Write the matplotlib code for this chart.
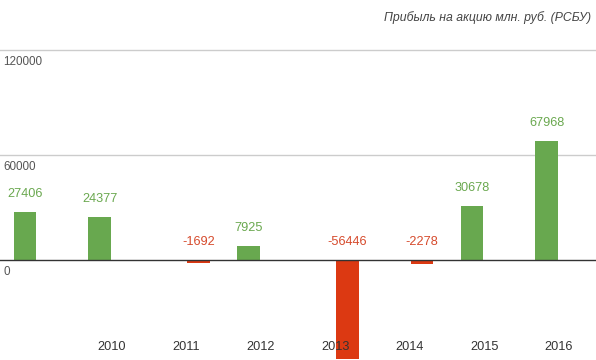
import numpy as np
import matplotlib
matplotlib.use("Agg")
from matplotlib import pyplot as plt
from matplotlib import transforms

years = ["2009", "2010", "2011", "2012", "2013", "2014", "2015", "2016"]
year_labels = ["", "2010", "2011", "2012", "2013", "2014", "2015", "2016"]
profit = [27406, 24377, -1692, 7925, -56446, -2278, 30678, 67968]
y_ticks = [0, 60000, 120000]
title = "Прибыль на акцию млн. руб. (РСБУ)"

green = "#68a84f"
red = "#dc3912"
green_txt = "#6aa84f"
red_txt = "#d64a2c"

plt.rcParams["font.family"] = ["Liberation Sans", "DejaVu Sans"]

fig = plt.figure(figsize=(5.96, 3.6), dpi=100)
ax = fig.add_axes([0, 0, 1, 1])

x = np.arange(len(years))
vals = np.array(profit, dtype=float)
pos = vals >= 0
off = 0.163
w = 0.30

# positive series left of the slot, negative series right of it
ax.bar(x[pos] - off, vals[pos], width=w, color=green, zorder=2)
ax.bar(x[~pos] + off, vals[~pos], width=w, color=red, zorder=2)

for xi, v in zip(x, vals):
    if v >= 0:
        ax.annotate(str(int(v)), (xi - off, v), xytext=(0, 13),
                    textcoords="offset points", ha="center", va="center",
                    fontsize=9.2, color=green_txt, zorder=4)
    else:
        ax.annotate(str(int(v)), (xi + off, 0), xytext=(0, 12.8),
                    textcoords="offset points", ha="center", va="center",
                    fontsize=9.2, color=red_txt, zorder=4)

ax.set_xlim(-0.5, len(years) - 0.5)
ax.set_ylim(-56900, 148300)

# grid lines + tick labels inside the plot
for t in y_ticks:
    if t == 0:
        ax.axhline(0, color="#333333", lw=1.0, zorder=3)
    else:
        ax.axhline(t, color="#cccccc", lw=1.0, zorder=1)
    ax.annotate(str(t), (0, t), xycoords=("axes fraction", "data"),
                xytext=(2.5, -4.5), textcoords="offset points",
                ha="left", va="top", fontsize=8.4, color="#555555")

trans = transforms.blended_transform_factory(ax.transData, ax.transAxes)
for xi, lab in zip(x, year_labels):
    ax.text(xi, 13.5 / 360, lab, transform=trans, ha="center", va="center",
            fontsize=9.2, color="#333333", zorder=5)

ax.text(0.992, 1 - 17.5 / 360, title, transform=ax.transAxes, ha="right",
        va="center", fontsize=8.85, style="italic", color="#444444")

ax.axis("off")
fig.savefig("out.png", dpi=100)
